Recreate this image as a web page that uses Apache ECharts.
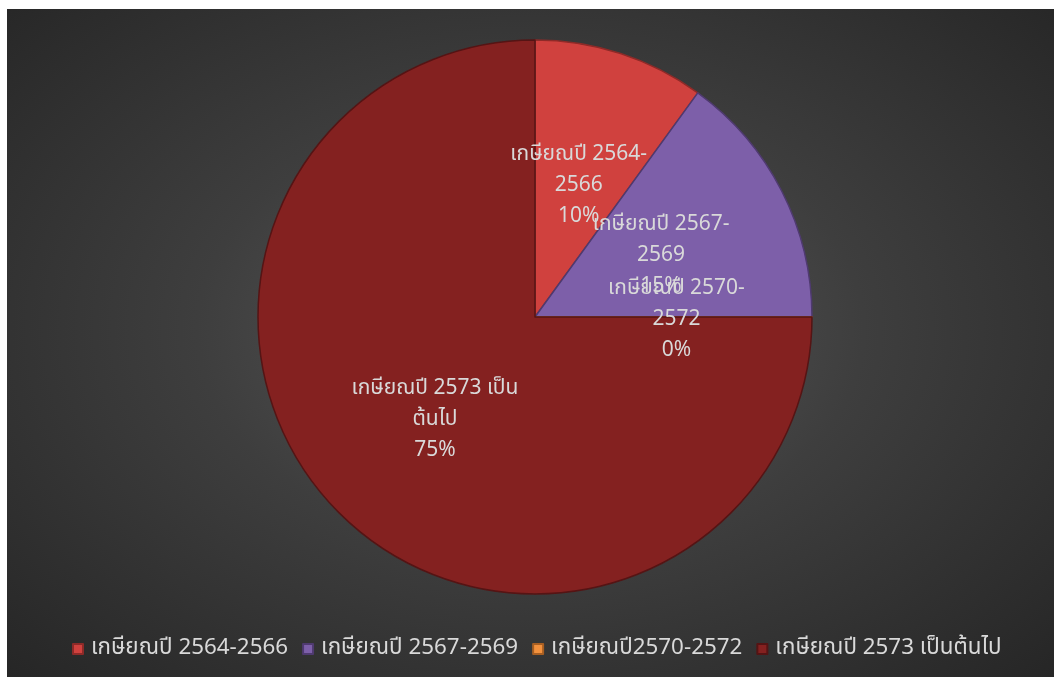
<!DOCTYPE html>
<html>
<head>
<meta charset="utf-8">
<script src="https://cdn.jsdelivr.net/npm/echarts@6/dist/echarts.min.js"></script>
<style>
  html, body { margin: 0; padding: 0; background: #ffffff; }
  #piechart {
    position: absolute;
    left: 7px;
    top: 9px;
    width: 1047px;
    height: 668px;
    background: radial-gradient(ellipse at 50% 48%, #5a5a5a 0%, #3e3e3e 45%, #262626 100%);
  }
</style>
</head>
<body>
<div id="piechart"></div>
<script>
  // legend names and the wrapped label text used inside the slices
  const categories = ['เกษียณปี 2564-2566', 'เกษียณปี 2567-2569', 'เกษียณปี2570-2572', 'เกษียณปี 2573 เป็นต้นไป'];
  const labelNames = ['เกษียณปี 2564-\n2566', 'เกษียณปี 2567-\n2569', 'เกษียณปี 2570-\n2572', 'เกษียณปี 2573 เป็น\nต้นไป'];
  const values = [10, 15, 0, 75];
  const pieColor = ['#d0413e', '#7d5fa9', '#f2913d', '#842120'];
  const edgeColor = ['#8e2a28', '#4f3a70', '#a85f22', '#551414'];

  const chart = echarts.init(document.getElementById('piechart'));

  const fontFamily = '"Noto Sans Thai", "Noto Sans", "DejaVu Sans", sans-serif';

  let option = {
    backgroundColor: 'transparent',
    legend: {
      bottom: 12,
      left: 60,
      itemWidth: 10,
      itemHeight: 10,
      itemGap: 14,
      icon: 'rect',
      textStyle: { color: '#d9d9d9', fontSize: 22.4, fontFamily: fontFamily, padding: [0, 0, 0, 3] },
      data: categories,
    },
    series: [
      {
        type: 'pie',
        center: [528, 308],
        radius: 277,
        startAngle: 90,
        clockwise: true,
        avoidLabelOverlap: false,
        minShowLabelAngle: 0,
        percentPrecision: 0,
        label: {
          show: true,
          position: 'inner',
          color: '#d9d9d9',
          fontSize: 21,
          lineHeight: 31,
          offset: [0, 4],
          fontFamily: fontFamily,
          formatter: (p) => labelNames[p.dataIndex] + '\n' + p.percent + '%',
        },
        labelLayout: { hideOverlap: false },
        labelLine: { show: false },
        emphasis: { scale: false },
        data: categories.map((name, i) => ({
          name: name,
          value: values[i],
          itemStyle: { color: pieColor[i], borderColor: edgeColor[i], borderWidth: 1.5 },
        })),
      },
    ],
  };

  chart.setOption(option);
</script>
</body>
</html>
